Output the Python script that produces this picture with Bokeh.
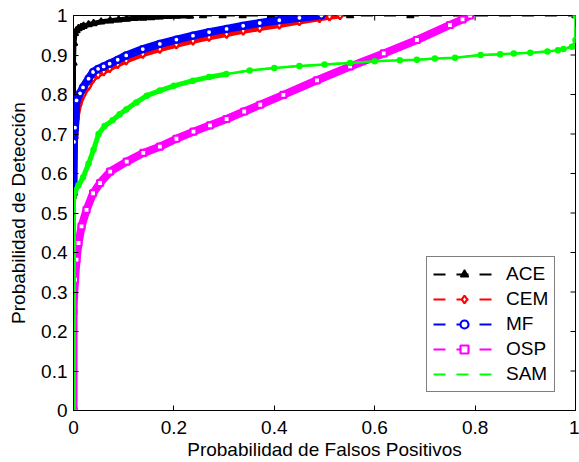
import math
from bokeh.plotting import figure
from bokeh.models import Range1d, FixedTicker, Legend, LegendItem
from bokeh.embed import file_html
from bokeh.resources import INLINE

FONT = "Liberation Sans"

x_ticks = [0, 0.2, 0.4, 0.6, 0.8, 1]
x_tick_labels = ["0", "0.2", "0.4", "0.6", "0.8", "1"]
y_ticks = [0, 0.1, 0.2, 0.3, 0.4, 0.5, 0.6, 0.7, 0.8, 0.9, 1]
y_tick_labels = ["0", "0.1", "0.2", "0.3", "0.4", "0.5", "0.6", "0.7", "0.8", "0.9", "1"]

x_label = "Probabilidad de Falsos Positivos"
y_label = "Probabilidad de Detección"

series_names = ["ACE", "CEM", "MF", "OSP", "SAM"]

ace_fp = [0, 0, 0, 0.001, 0.003, 0.006, 0.01, 0.015, 0.02, 0.03, 0.04, 0.055, 0.073,
          0.09, 0.106, 0.122, 0.139, 0.155, 0.172, 0.19, 0.206, 0.232, 0.258, 0.297,
          0.337, 0.393, 0.453, 0.551, 0.671, 1.0]
ace_pd = [0, 0.55, 0.88, 0.93, 0.955, 0.962, 0.967, 0.970, 0.973, 0.977, 0.980, 0.984,
          0.987, 0.989, 0.991, 0.993, 0.994, 0.995, 0.997, 0.998, 0.999, 0.999, 1.0,
          1.0, 1.0, 1.0, 1.0, 1.0, 1.0, 1.0]

cem_fp = [0, 0, 0.001, 0.003, 0.006, 0.011, 0.019, 0.03, 0.039, 0.049, 0.06, 0.072,
          0.088, 0.105, 0.138, 0.172, 0.205, 0.238, 0.27, 0.305, 0.338, 0.371, 0.41,
          0.45, 0.49, 0.51, 0.531]
cem_pd = [0, 0.54, 0.64, 0.69, 0.74, 0.775, 0.80, 0.822, 0.84, 0.85, 0.858, 0.866,
          0.876, 0.886, 0.902, 0.915, 0.926, 0.936, 0.945, 0.953, 0.961, 0.968, 0.976,
          0.985, 0.993, 0.997, 1.0]

mf_fp = [0, 0, 0.001, 0.003, 0.006, 0.013, 0.019, 0.03, 0.039, 0.049, 0.06, 0.072,
         0.088, 0.105, 0.138, 0.172, 0.205, 0.238, 0.27, 0.305, 0.338, 0.371, 0.41,
         0.45, 0.494]
mf_pd = [0, 0.55, 0.68, 0.716, 0.785, 0.803, 0.818, 0.84, 0.857, 0.865, 0.871, 0.878,
         0.888, 0.899, 0.915, 0.928, 0.939, 0.949, 0.958, 0.966, 0.974, 0.981, 0.988,
         0.994, 1.0]

osp_fp = [0, 0, 0.001, 0.003, 0.006, 0.01, 0.016, 0.026, 0.039, 0.053, 0.073, 0.106,
          0.139, 0.172, 0.205, 0.239, 0.272, 0.305, 0.34, 0.372, 0.418, 0.485, 0.551,
          0.618, 0.684, 0.75, 0.775, 0.79]
osp_pd = [0, 0.25, 0.289, 0.331, 0.382, 0.424, 0.466, 0.508, 0.55, 0.576, 0.605, 0.630,
          0.652, 0.668, 0.688, 0.706, 0.722, 0.738, 0.757, 0.774, 0.799, 0.836, 0.871,
          0.904, 0.938, 0.976, 0.99, 1.0]

sam_fp = [0, 0, 0.003, 0.01, 0.019, 0.03, 0.04, 0.05, 0.062, 0.078, 0.092, 0.105, 0.125,
          0.146, 0.172, 0.2, 0.238, 0.27, 0.305, 0.351, 0.4, 0.45, 0.5, 0.551, 0.6,
          0.65, 0.684, 0.72, 0.76, 0.811, 0.85, 0.877, 0.91, 0.944, 0.965, 0.976,
          0.993, 1.0, 1.0]
sam_pd = [0, 0.54, 0.555, 0.57, 0.59, 0.625, 0.66, 0.70, 0.72, 0.735, 0.75, 0.762, 0.78,
          0.797, 0.81, 0.822, 0.835, 0.844, 0.852, 0.861, 0.867, 0.872, 0.876, 0.880,
          0.884, 0.887, 0.888, 0.891, 0.893, 0.90, 0.902, 0.904, 0.906, 0.909, 0.912,
          0.915, 0.921, 0.938, 1.0]

# styling per series: colour, marker, bands (start, end index, width)
styles = {
    "ACE": dict(color="black", marker="triangle", size=7, fill="black", lw=1.5,
                bands=[(1, 22, 5)], legend_marker=True),
    "CEM": dict(color="#ff0000", marker="diamond", size=8, fill="white", lw=2.2,
                bands=[(1, None, 6)], legend_marker=True),
    "MF": dict(color="#0000ff", marker="circle", size=6, fill="white", lw=2.2,
               bands=[(1, None, 8)], legend_marker=True),
    "OSP": dict(color="#ff00ff", marker="square", size=6, fill="white", lw=2.2,
                bands=[(0, None, 8)], legend_marker=True),
    "SAM": dict(color="#00ff00", marker="circle", size=5, fill="#00ff00", lw=1.5,
                bands=[(0, 19, 5), (0, None, 2.5)], legend_marker=False),
}
data = {
    "ACE": (ace_fp, ace_pd),
    "CEM": (cem_fp, cem_pd),
    "MF": (mf_fp, mf_pd),
    "OSP": (osp_fp, osp_pd),
    "SAM": (sam_fp, sam_pd),
}

p = figure(width=579, height=462, x_range=Range1d(0, 1), y_range=Range1d(0, 1),
           output_backend="svg", toolbar_location=None,
           min_border_left=73, min_border_right=4, min_border_top=15, min_border_bottom=51,
           x_axis_label=x_label, y_axis_label=y_label)
p.xgrid.visible = False
p.ygrid.visible = False
p.outline_line_color = "black"
p.outline_line_width = 1
p.background_fill_color = "white"
p.border_fill_color = "white"


def style_axis(ax, ticks, labels):
    ax.ticker = FixedTicker(ticks=ticks)
    ax.major_label_overrides = {t: l for t, l in zip(ticks, labels)}
    ax.major_tick_in = 5
    ax.major_tick_out = 0
    ax.minor_tick_in = 0
    ax.minor_tick_out = 0
    ax.axis_line_color = "black"
    ax.major_tick_line_color = "black"
    ax.major_label_text_font = FONT
    ax.major_label_text_font_size = "19px"
    ax.major_label_text_color = "black"
    ax.axis_label_text_font = FONT
    ax.axis_label_text_font_style = "normal"
    ax.axis_label_text_font_size = "19px"
    ax.axis_label_text_color = "black"


style_axis(p.xaxis[0], x_ticks, x_tick_labels)
style_axis(p.yaxis[0], y_ticks, y_tick_labels)
p.xaxis[0].major_label_standoff = 10
p.xaxis[0].axis_label_standoff = 2
p.yaxis[0].major_label_standoff = 6
p.yaxis[0].axis_label_standoff = 9

# mirrored inward ticks on the top and right edges (outer half clipped by the frame)
p.scatter(x_ticks, [1] * len(x_ticks), marker="dash", size=10, angle=math.pi / 2,
          line_color="black", line_width=1)
p.scatter([1] * len(y_ticks), y_ticks, marker="dash", size=10,
          line_color="black", line_width=1)

items = []
for name in series_names:
    fp, pd = data[name]
    st = styles[name]
    for a, b, w in st["bands"]:
        p.line(fp[a:b], pd[a:b], line_color=st["color"], line_width=w,
               line_join="round", line_cap="round")
    dashed = p.line(fp, pd, line_color=st["color"], line_width=2, line_dash="12 11")
    mk = p.scatter(fp, pd, marker=st["marker"], size=st["size"], line_color=st["color"],
                   fill_color=st["fill"], line_width=st["lw"])
    rends = [dashed, mk] if st["legend_marker"] else [dashed]
    items.append(LegendItem(label=name, renderers=rends))

legend = Legend(items=items, location=(353, 18))
legend.border_line_color = "black"
legend.border_line_width = 1
legend.background_fill_color = "white"
legend.background_fill_alpha = 1
legend.padding = 6
legend.spacing = 3
legend.margin = 0
legend.glyph_width = 62
legend.glyph_height = 20
legend.label_height = 20
legend.label_standoff = 11
legend.label_text_font = FONT
legend.label_text_font_size = "19px"
legend.label_text_color = "black"
p.add_layout(legend)

open("out.html", "w").write(file_html(p, INLINE))
